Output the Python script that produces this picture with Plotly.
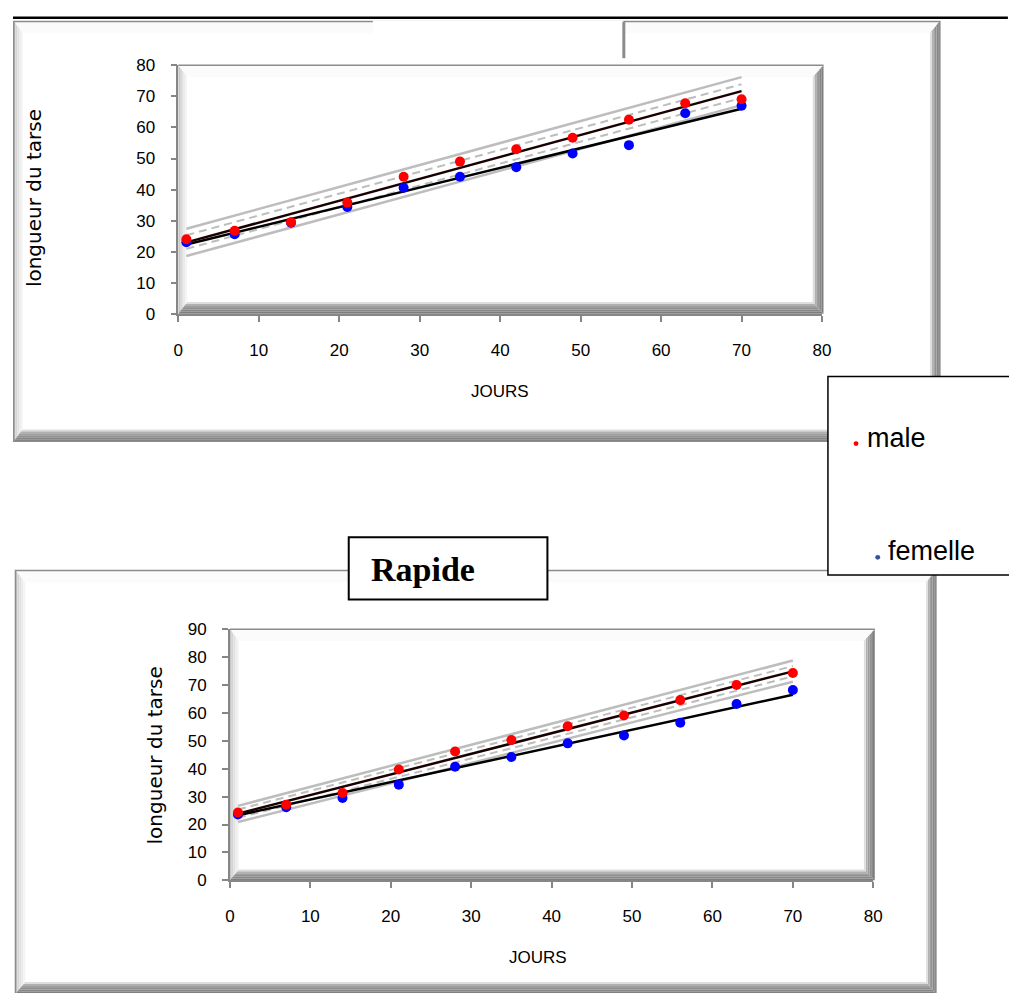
import plotly.graph_objects as go

# window size; the page keeps an 8px body margin, so the figure is the window minus margins
W, H = 1017, 1001
OFF = 8
FW, FH = W - 2 * OFF, H - 2 * OFF

# ---------------- data ----------------
jours = [1, 7, 14, 21, 28, 35, 42, 49, 56, 63, 70]

# top chart
top_male = [24.0, 26.7, 29.5, 35.8, 44.1, 49.0, 53.0, 56.7, 62.5, 67.8, 69.1]
top_femelle = [23.0, 25.6, 29.3, 34.4, 40.6, 44.1, 47.2, 51.6, 54.3, 64.6, 67.0]
# bottom chart "Rapide"
bot_male = [24.3, 27.1, 31.3, 39.7, 46.2, 50.3, 55.2, 59.1, 64.6, 70.0, 74.3]
bot_femelle = [23.6, 26.2, 29.5, 34.3, 40.7, 44.2, 49.1, 51.9, 56.5, 63.2, 68.2]

# fitted lines and bands, values at the two ends (x = 1 and x = 70)
fit_x = [1, 70]
top_fit_male = [23.0, 71.7]
top_fit_femelle = [22.3, 66.0]
top_pred_up = [27.4, 76.2]
top_pred_lo = [18.6, 67.2]
top_conf_up = [25.3, 73.9]
top_conf_lo = [20.9, 69.5]

bot_fit_male = [23.9, 74.9]
bot_fit_femelle = [23.3, 66.5]
bot_pred_up = [26.7, 78.8]
bot_pred_lo = [20.9, 71.2]
bot_conf_up = [25.4, 76.8]
bot_conf_lo = [22.4, 73.1]

x_ticks = [0, 10, 20, 30, 40, 50, 60, 70, 80]
top_y_ticks = [0, 10, 20, 30, 40, 50, 60, 70, 80]
bot_y_ticks = [0, 10, 20, 30, 40, 50, 60, 70, 80, 90]

# ---------------- helpers (window pixels -> paper) ----------------
def P(px):
    return (px - OFF) / FW

def Q(py):
    return 1 - (py - OFF) / FH

def path(points):
    return "M " + " L ".join(f"{P(x):.6f},{Q(y):.6f}" for x, y in points) + " Z"

shapes = []

def rect(x0, y0, x1, y1, fill, line=None, lw=0, layer="below"):
    shapes.append(dict(type="rect", xref="paper", yref="paper",
                       x0=P(x0), x1=P(x1), y0=Q(y1), y1=Q(y0),
                       fillcolor=fill, layer=layer,
                       line=dict(color=line or "rgba(0,0,0,0)", width=lw)))

def seg(x0, y0, x1, y1, color, width, layer="below"):
    shapes.append(dict(type="line", xref="paper", yref="paper",
                       x0=P(x0), x1=P(x1), y0=Q(y0), y1=Q(y1), layer=layer,
                       line=dict(color=color, width=width)))

def bevel(x0, y0, x1, y1, wl, wt, wr, wb, cl, ct, cr, cb, border, bw):
    rect(x0, y0, x1, y1, "white")
    def corner(f):
        return ((x0 + f * wl, y0 + f * wt), (x1 - f * wr, y0 + f * wt),
                (x1 - f * wr, y1 - f * wb), (x0 + f * wl, y1 - f * wb))
    for side, cols in (("top", ct), ("left", cl), ("right", cr), ("bottom", cb)):
        n = len(cols)
        for i, c in enumerate(cols):
            a = corner(i / n)
            b = corner((i + 1) / n)
            if side == "left":
                pts = [a[0], b[0], b[3], a[3]]
            elif side == "right":
                pts = [a[1], b[1], b[2], a[2]]
            elif side == "bottom":
                pts = [a[3], b[3], b[2], a[2]]
            else:
                pts = [a[0], b[0], b[1], a[1]]
            shapes.append(dict(type="path", xref="paper", yref="paper",
                               path=path(pts), fillcolor=c, layer="below",
                               line=dict(width=0)))
    if border:
        rect(x0, y0, x1, y1, "rgba(0,0,0,0)", border, bw)

LIGHT = ["#c8c8c8", "#d5d5d5", "#e1e1e1", "#ebebeb", "#f4f4f4"]
TOPW = ["#fbfbfb"] * 2
DARK = ["#7e7e7e", "#878787", "#919191", "#9d9d9d", "#b0b0b0", "#dedede"]

# ---------------- outer frames ----------------
bevel(8.8, 12.5, 948, 440.5, 9, 12, 10, 12, LIGHT, TOPW, DARK, DARK, "#8c8c8c", 1.5)
bevel(10.5, 572.5, 944, 1004, 10, 12, 10, 12, LIGHT, TOPW, DARK, DARK, "#8c8c8c", 1.5)

# plot-area bevels
bevel(175.7, 57.3, 830, 310.6, 9, 12, 11, 12, LIGHT, TOPW, DARK, DARK, None, 0)
seg(175.7, 57.3, 830, 57.3, "#8c8c8c", 1.5)
bevel(228, 632.3, 882, 888.3, 9, 12, 11, 11, LIGHT, TOPW, DARK, DARK, None, 0)
seg(228, 632.3, 882, 632.3, "#8c8c8c", 1.5)

# table rule at the very top
seg(8, 8.8, W, 8.8, "black", 2.5)

# top title box (blank) and its gray edge
rect(373, 11.5, 627, 50, "white", layer="above")
seg(627.5, 13, 627.5, 50, "#8c8c8c", 3, layer="above")

# "Rapide" box
rect(348.5, 538.5, 550, 602, "white", "black", 2, layer="above")
# legend box
rect(834.5, 374.5, 1022, 577, "white", "black", 1.5, layer="above")
shapes.append(dict(type="circle", xref="paper", yref="paper", layer="above",
                   x0=P(860.5), x1=P(865.5), y0=Q(445.5), y1=Q(440.5),
                   fillcolor="#ff0000", line=dict(width=0)))
shapes.append(dict(type="circle", xref="paper", yref="paper", layer="above",
                   x0=P(882.5), x1=P(887.5), y0=Q(561.5), y1=Q(556.5),
                   fillcolor="#2f5597", line=dict(width=0)))

# ---------------- traces ----------------
fig = go.Figure()

def add_chart(xa, ya, male, fem, fm, ff, pu, pl, cu, cl):
    kw = dict(xaxis=xa, yaxis=ya, showlegend=False, hoverinfo="skip")
    for yy in (pu, pl):
        fig.add_trace(go.Scatter(x=fit_x, y=yy, mode="lines",
                                 line=dict(color="#bdbdbd", width=2.5), **kw))
    for yy in (cu, cl):
        fig.add_trace(go.Scatter(x=fit_x, y=yy, mode="lines",
                                 line=dict(color="#bdbdbd", width=2, dash="8px,5px"), **kw))
    fig.add_trace(go.Scatter(x=fit_x, y=ff, mode="lines",
                             line=dict(color="black", width=2.5), **kw))
    fig.add_trace(go.Scatter(x=fit_x, y=fm, mode="lines",
                             line=dict(color="#1a0000", width=2.5), **kw))
    fig.add_trace(go.Scatter(x=jours, y=fem, mode="markers", name="femelle",
                             marker=dict(color="#0000ff", size=10), **kw))
    fig.add_trace(go.Scatter(x=jours, y=male, mode="markers", name="male",
                             marker=dict(color="#ff0000", size=10), **kw))

add_chart("x", "y", top_male, top_femelle, top_fit_male, top_fit_femelle,
          top_pred_up, top_pred_lo, top_conf_up, top_conf_lo)
add_chart("x2", "y2", bot_male, bot_femelle, bot_fit_male, bot_fit_femelle,
          bot_pred_up, bot_pred_lo, bot_conf_up, bot_conf_lo)

tickfont = dict(family="Liberation Sans, Arial, sans-serif", size=17, color="black")
axis_common = dict(showgrid=False, zeroline=False, showline=True,
                   linecolor="#868686", linewidth=1.5, ticks="outside",
                   ticklen=6, tickwidth=1.5, tickcolor="#868686",
                   tickfont=tickfont, fixedrange=True)

fig.update_layout(
    width=FW, height=FH, autosize=False,
    margin=dict(l=0, r=0, t=0, b=0, pad=0),
    paper_bgcolor="white", plot_bgcolor="rgba(0,0,0,0)",
    showlegend=False,
    shapes=shapes,
    xaxis=dict(domain=[P(175.7), P(828.5)], range=[0, 80], tickvals=x_ticks,
               anchor="y", ticklabelstandoff=14, **axis_common),
    yaxis=dict(domain=[Q(310.6), Q(57.3)], range=[0, 80], tickvals=top_y_ticks,
               anchor="x", ticklabelstandoff=12, **axis_common),
    xaxis2=dict(domain=[P(228), P(880.5)], range=[0, 80], tickvals=x_ticks,
                anchor="y2", ticklabelstandoff=14, **axis_common),
    yaxis2=dict(domain=[Q(888.3), Q(632.3)], range=[0, 90], tickvals=bot_y_ticks,
                anchor="x2", ticklabelstandoff=12, **axis_common),
)

lab = dict(family="Liberation Sans, Arial, sans-serif", color="black")
ytitle = dict(family="DejaVu Sans, sans-serif", size=20, color="black")
ann = [
    dict(text="longueur du tarse", x=P(30), y=Q(193), textangle=-90, font=ytitle),
    dict(text="longueur du tarse", x=P(153), y=Q(761), textangle=-90, font=ytitle),
    dict(text="JOURS", x=P(502), y=Q(390), font=dict(size=17, **lab)),
    dict(text="JOURS", x=P(540), y=Q(967), font=dict(size=17, **lab)),
    dict(text="<b>Rapide</b>", x=P(424), y=Q(571),
         font=dict(family="Liberation Serif, Times New Roman, serif", size=34, color="black")),
    dict(text="male", x=P(872), y=Q(437), xanchor="left",
         font=dict(size=27, **lab)),
    dict(text="femelle", x=P(893), y=Q(553), xanchor="left",
         font=dict(size=27, **lab)),
]
for a in ann:
    a.update(xref="paper", yref="paper", showarrow=False)
    a.setdefault("xanchor", "center")
    a["yanchor"] = "middle"
fig.update_layout(annotations=ann)

fig.write_html("out.html", config={"displayModeBar": False})
